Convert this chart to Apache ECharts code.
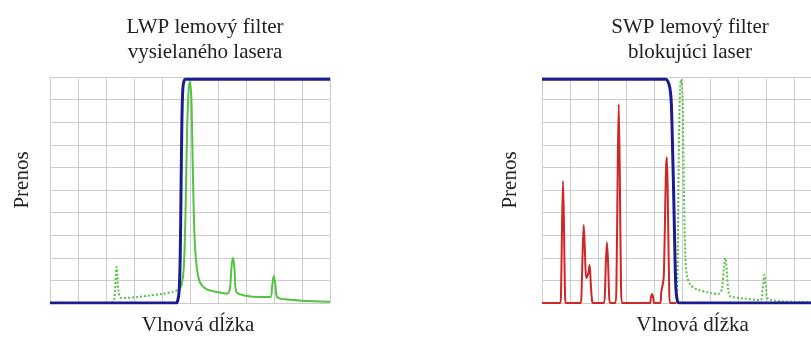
<!DOCTYPE html>
<html>
<head>
<meta charset="utf-8">
<script src="https://cdn.jsdelivr.net/npm/echarts@6/dist/echarts.min.js"></script>
<style>
  html, body { margin: 0; padding: 0; background: #ffffff; }
  #chart { width: 811px; height: 338px; }
</style>
</head>
<body>
<div id="chart"></div>
<script>
// Panel texts
const panelTitles = ['LWP lemový filter\nvysielaného lasera', 'SWP lemový filter\nblokujúci laser'];
const xAxisName = 'Vlnová dĺžka';
const yAxisName = 'Prenos';

// LWP panel: filter transmission edge (x = wavelength in grid units, y = relative transmission)
const lwpFilter = [
  [0, 0], [4.5, 0], [4.56, 0.01], [4.61, 0.05], [4.65, 0.2], [4.68, 0.5],
  [4.71, 0.8], [4.74, 0.94], [4.78, 0.98], [4.85, 0.99], [10, 0.99]
];
// LWP panel: blocked part of the laser line (anti-Stokes side)
const lwpBlocked = [
  [2.2, 0], [2.28, 0.01], [2.32, 0.05], [2.35, 0.12], [2.38, 0.16], [2.41, 0.12],
  [2.45, 0.05], [2.55, 0.022], [3.0, 0.025], [3.5, 0.032], [4.0, 0.04], [4.4, 0.05], [4.6, 0.058]
];
// LWP panel: transmitted laser line and Raman peaks
const lwpPassed = [
  [4.6, 0.058], [4.7, 0.08], [4.78, 0.16], [4.84, 0.4], [4.9, 0.78], [4.96, 0.96],
  [5.0, 0.98], [5.05, 0.9], [5.1, 0.6], [5.16, 0.3], [5.24, 0.16], [5.36, 0.09], [5.6, 0.06],
  [6.0, 0.048], [6.35, 0.042], [6.43, 0.07], [6.49, 0.17], [6.54, 0.2], [6.59, 0.15],
  [6.65, 0.05], [7.0, 0.032], [7.5, 0.026], [7.87, 0.026], [7.93, 0.07], [7.99, 0.12],
  [8.05, 0.08], [8.12, 0.025], [8.5, 0.015], [9.0, 0.01], [10, 0.005]
];

// SWP panel: filter transmission edge
const swpFilter = [
  [0, 0.99], [4.42, 0.99], [4.5, 0.98], [4.57, 0.95], [4.62, 0.88], [4.67, 0.65],
  [4.71, 0.44], [4.75, 0.2], [4.78, 0.07], [4.82, 0.02], [4.9, 0], [10, 0]
];
// SWP panel: transmitted signal peaks
const swpPassed = [
  [0, 0], [0.65, 0], [0.68, 0.05], [0.71, 0.3], [0.75, 0.54], [0.79, 0.3], [0.82, 0.05], [0.85, 0],
  [1.38, 0], [1.41, 0.04], [1.45, 0.22], [1.49, 0.345], [1.53, 0.24], [1.58, 0.11],
  [1.65, 0.13], [1.7, 0.168], [1.74, 0.09], [1.78, 0.02], [1.82, 0],
  [2.21, 0], [2.25, 0.06], [2.28, 0.18], [2.32, 0.268], [2.36, 0.18], [2.39, 0.06], [2.43, 0],
  [2.62, 0], [2.66, 0.1], [2.7, 0.55], [2.74, 0.879], [2.78, 0.55], [2.82, 0.1], [2.86, 0],
  [3.85, 0], [3.89, 0.025], [3.93, 0.04], [3.97, 0.025], [4.01, 0],
  [4.22, 0], [4.26, 0.05], [4.31, 0.08], [4.35, 0.12], [4.39, 0.35], [4.43, 0.6], [4.46, 0.645],
  [4.5, 0.4], [4.54, 0.08], [4.58, 0], [4.8, 0]
];
// SWP panel: blocked laser line and Raman peaks
const swpBlocked = [
  [4.8, 0], [4.84, 0.1], [4.88, 0.6], [4.93, 0.95], [4.97, 0.99], [5.02, 0.9],
  [5.07, 0.5], [5.12, 0.2], [5.18, 0.12], [5.3, 0.08], [5.54, 0.06], [6.0, 0.045],
  [6.3, 0.04], [6.42, 0.06], [6.5, 0.16], [6.55, 0.2], [6.6, 0.14], [6.66, 0.05],
  [6.72, 0.03], [7.2, 0.02], [7.8, 0.013], [7.88, 0.06], [7.94, 0.124], [8.0, 0.07],
  [8.06, 0.02], [8.5, 0.008], [9.0, 0.005], [10, 0.003]
];

const serif = 'Liberation Serif, Times New Roman, serif';
const navy = '#1c1c92';
const green = '#55c243';
const red = '#cf2626';
const gridColor = '#cccccc';
const textColor = '#222222';

function xAxisFor(gridIndex, shift) {
  return {
    type: 'value', gridIndex: gridIndex, min: 0, max: 10, interval: 1,
    axisLine: { show: false }, axisTick: { show: false }, axisLabel: { show: false },
    splitLine: { show: true, lineStyle: { color: gridColor, width: 1 } },
    name: xAxisName, nameLocation: 'middle', nameGap: 12,
    nameTextStyle: { fontFamily: serif, fontSize: 21, color: textColor, padding: [0, 0, 0, shift] }
  };
}
function yAxisFor(gridIndex, gap) {
  return {
    type: 'value', gridIndex: gridIndex, min: 0, max: 1, interval: 0.1,
    axisLine: { show: false }, axisTick: { show: false }, axisLabel: { show: false },
    splitLine: { show: true, lineStyle: { color: gridColor, width: 1 } },
    name: yAxisName, nameLocation: 'middle', nameGap: gap,
    nameTextStyle: { fontFamily: serif, fontSize: 21, color: textColor, padding: [0, 0, 0, 20] }
  };
}
function line(xi, data, color, width, type) {
  return {
    type: 'line', xAxisIndex: xi, yAxisIndex: xi, data: data, showSymbol: false,
    smooth: 0.3, animation: false,
    lineStyle: { color: color, width: width, type: type || 'solid' }
  };
}
const titleStyle = { fontFamily: serif, fontSize: 21, fontWeight: 'normal', color: textColor, lineHeight: 25, align: 'center' };

const chart = echarts.init(document.getElementById('chart'), null, { renderer: 'canvas' });
chart.setOption({
  backgroundColor: '#ffffff',
  animation: false,
  title: [
    { text: panelTitles[0], left: 200, top: 10, textAlign: 'center', textStyle: titleStyle },
    { text: panelTitles[1], left: 685, top: 10, textAlign: 'center', textStyle: titleStyle }
  ],
  grid: [
    { left: 50, top: 77, width: 280, height: 226, outerBoundsMode: 'none' },
    { left: 542, top: 77, width: 280, height: 226, outerBoundsMode: 'none' }
  ],
  xAxis: [xAxisFor(0, 16), xAxisFor(1, 21)],
  yAxis: [yAxisFor(0, 17), yAxisFor(1, 21)],
  series: [
    line(0, lwpBlocked, green, 2, 'dotted'),
    line(0, lwpPassed, green, 2),
    line(0, lwpFilter, navy, 3),
    line(1, swpPassed, red, 2),
    line(1, swpBlocked, green, 2, 'dotted'),
    line(1, swpFilter, navy, 3)
  ]
});
</script>
</body>
</html>
